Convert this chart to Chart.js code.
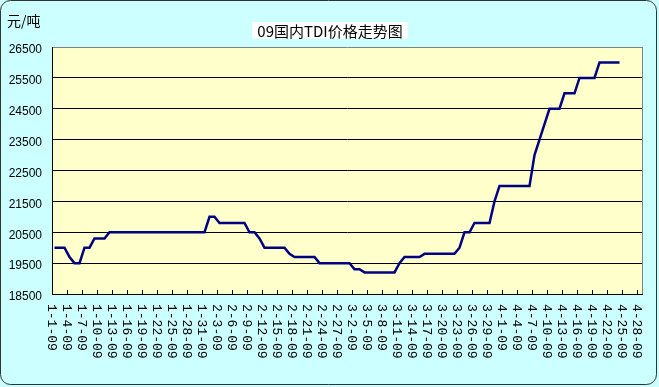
<!DOCTYPE html>
<html>
<head>
<meta charset="utf-8">
<script src="https://cdn.jsdelivr.net/npm/chart.js@4.4.1/dist/chart.umd.min.js"></script>
<style>
  html, body { margin: 0; padding: 0; background: #ccffff; }
  canvas { display: block; }
</style>
</head>
<body>
<canvas id="chart" width="659" height="387"></canvas>
<script>
const titleText = '09国内TDI价格走势图';
const unitText = '元/吨';

// date axis: every day from 1-1-09 to 4-28-09
const months = [1, 2, 3, 4];
const monthDays = [31, 28, 31, 28];

// price turning points
const priceDates = [
  '1-1-09', '1-2-09', '1-3-09', '1-4-09', '1-5-09', '1-6-09', '1-7-09', '1-8-09', '1-9-09', '1-11-09', '1-12-09',
  '1-31-09', '2-1-09', '2-2-09', '2-3-09', '2-8-09', '2-9-09', '2-10-09', '2-11-09', '2-12-09',
  '2-16-09', '2-17-09', '2-18-09', '2-22-09', '2-23-09',
  '3-1-09', '3-2-09', '3-3-09', '3-4-09', '3-10-09', '3-11-09', '3-12-09', '3-15-09', '3-16-09',
  '3-22-09', '3-23-09', '3-24-09', '3-25-09', '3-26-09', '3-29-09', '3-30-09', '3-31-09',
  '4-6-09', '4-7-09', '4-8-09', '4-9-09', '4-10-09', '4-12-09', '4-13-09', '4-15-09', '4-16-09',
  '4-19-09', '4-20-09', '4-24-09'
];
const prices = [
  20000, 20000, 20000, 19700, 19500, 19500, 20000, 20000, 20300, 20300, 20500,
  20500, 21000, 21000, 20800, 20800, 20500, 20500, 20300, 20000,
  20000, 19800, 19700, 19700, 19500,
  19500, 19300, 19300, 19200, 19200, 19500, 19700, 19700, 19800,
  19800, 20000, 20500, 20500, 20800, 20800, 21500, 22000,
  22000, 23000, 23500, 24000, 24500, 24500, 25000, 25000, 25500,
  25500, 26000, 26000
];

const yTicks = [18500, 19500, 20500, 21500, 22500, 23500, 24500, 25500, 26500];

const days = [];
months.forEach((m, i) => {
  for (let d = 1; d <= monthDays[i]; d++) days.push(m + '-' + d + '-09');
});

const points = priceDates.map((d, i) => ({x: d, y: prices[i]}));

const frame = {
  id: 'frame',
  beforeDraw(chart) {
    const {ctx, chartArea: a} = chart;
    ctx.save();
    ctx.fillStyle = '#ccffff';
    ctx.fillRect(0, 0, chart.width, chart.height);
    ctx.fillStyle = '#ffffcc';
    ctx.fillRect(a.left, a.top, a.right - a.left, a.bottom - a.top);
    ctx.restore();
  },
  afterDraw(chart) {
    const {ctx, chartArea: a} = chart;
    const xs = chart.scales.x;
    ctx.save();

    // right edge of plot area
    ctx.strokeStyle = '#808080';
    ctx.lineWidth = 1;
    ctx.beginPath();
    ctx.moveTo(Math.round(a.right) + 0.5, a.top);
    ctx.lineTo(Math.round(a.right) + 0.5, a.bottom);
    ctx.stroke();

    // x ticks (inside) and rotated date labels, every 3rd day
    const half = (xs.getPixelForValue(1) - xs.getPixelForValue(0)) / 2;
    ctx.strokeStyle = '#000';
    ctx.fillStyle = '#000';
    ctx.font = '13px "Liberation Mono"';
    ctx.textAlign = 'left';
    ctx.textBaseline = 'middle';
    for (let i = 0; i < days.length; i += 3) {
      const x = Math.round(xs.getPixelForValue(i) - half) + 0.5;
      ctx.beginPath();
      ctx.moveTo(x, a.bottom);
      ctx.lineTo(x, a.bottom - 4);
      ctx.stroke();
      ctx.save();
      ctx.translate(x - 1, a.bottom + 10);
      ctx.rotate(Math.PI / 2);
      ctx.fillText(days[i], 0, 0);
      ctx.restore();
    }

    // title with white box
    ctx.font = '15px "Noto Sans CJK SC"';
    ctx.textAlign = 'center';
    const tw = ctx.measureText(titleText).width;
    ctx.fillStyle = '#fff';
    ctx.fillRect(330 - tw / 2 - 5, 22, tw + 10, 17);
    ctx.fillStyle = '#000';
    ctx.fillText(titleText, 330, 31);

    // unit label
    ctx.font = '14px "Noto Sans CJK SC"';
    ctx.textAlign = 'left';
    ctx.fillText(unitText, 7, 21);

    // outer rounded border
    ctx.strokeStyle = '#333';
    ctx.beginPath();
    ctx.roundRect(0.5, 0.5, 656, 384, 10);
    ctx.stroke();
    ctx.restore();
  }
};

new Chart(document.getElementById('chart'), {
  type: 'line',
  data: {
    labels: days,
    datasets: [{
      data: points,
      borderColor: '#000080',
      borderWidth: 2.5,
      pointRadius: 0,
      tension: 0,
      fill: false
    }]
  },
  options: {
    responsive: false,
    animation: false,
    devicePixelRatio: 1,
    layout: {padding: {left: 0, top: 47, right: 17, bottom: 93}},
    plugins: {
      legend: {display: false},
      tooltip: {enabled: false},
      title: {display: false}
    },
    scales: {
      x: {
        type: 'category',
        offset: true,
        ticks: {display: false},
        grid: {display: false, drawTicks: false},
        border: {display: true, color: '#000', width: 1},
        afterFit: (s) => { s.height = 0; }
      },
      y: {
        min: yTicks[0],
        max: yTicks[yTicks.length - 1],
        afterBuildTicks: (s) => { s.ticks = yTicks.map(v => ({value: v})); },
        afterFit: (s) => { s.width = 52; },
        ticks: {
          color: '#000',
          padding: 10,
          labelOffset: 3,
          font: {family: '"Liberation Sans", Arial', size: 12},
          callback: (v) => String(v)
        },
        grid: {
          drawTicks: false,
          color: (c) => c.tick && c.tick.value === yTicks[yTicks.length - 1] ? '#808080' : '#000',
          lineWidth: 1
        },
        border: {display: true, color: '#000', width: 1}
      }
    }
  },
  plugins: [frame]
});
</script>
</body>
</html>
